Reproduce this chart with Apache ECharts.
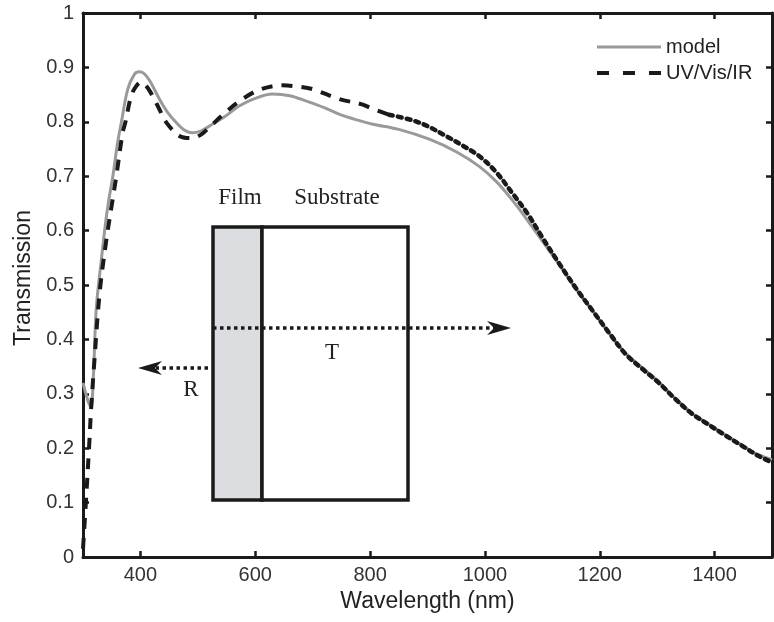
<!DOCTYPE html>
<html>
<head>
<meta charset="utf-8">
<script src="https://cdn.jsdelivr.net/npm/echarts@6/dist/echarts.min.js"></script>
<style>
  html, body { margin: 0; padding: 0; background: #fff; }
  #chart { width: 774px; height: 622px; }
</style>
</head>
<body>
<div id="chart"></div>
<script>
// Modelled transmission spectrum (nm, fraction)
const modelWl = [300, 305, 310, 314, 318, 323, 332, 340, 346, 352, 360, 367, 378, 390, 398, 406, 416, 433, 447, 462, 475, 490, 505, 520, 549, 572, 600, 630, 660, 689, 720, 746, 775, 803, 850, 903, 950, 990, 1020, 1047, 1070, 1089, 1110, 1129, 1160, 1186, 1215, 1245, 1275, 1303, 1330, 1360, 1390, 1418, 1450, 1476, 1500];
const modelT = [0.320, 0.300, 0.283, 0.276, 0.330, 0.455, 0.547, 0.620, 0.663, 0.700, 0.760, 0.800, 0.860, 0.888, 0.892, 0.889, 0.876, 0.842, 0.818, 0.799, 0.786, 0.780, 0.783, 0.792, 0.811, 0.829, 0.843, 0.851, 0.848, 0.838, 0.826, 0.814, 0.804, 0.796, 0.786, 0.768, 0.745, 0.718, 0.690, 0.657, 0.625, 0.597, 0.566, 0.538, 0.490, 0.455, 0.413, 0.375, 0.347, 0.322, 0.293, 0.265, 0.244, 0.225, 0.204, 0.188, 0.179];

// Measured UV/Vis/IR transmission
const measWl = [300, 305, 311, 314, 320, 329, 340, 352, 358, 369, 374, 384, 393, 401, 410, 421, 433, 445, 468, 488, 505, 520, 549, 578, 610, 647, 680, 700, 746, 786, 800, 833, 873, 900, 932, 960, 990, 1020, 1047, 1075, 1099, 1129, 1160, 1186, 1215, 1245, 1275, 1303, 1330, 1360, 1390, 1418, 1450, 1476, 1500];
const measT = [0.015, 0.100, 0.210, 0.270, 0.363, 0.486, 0.578, 0.660, 0.700, 0.780, 0.800, 0.848, 0.866, 0.873, 0.866, 0.848, 0.823, 0.799, 0.774, 0.770, 0.776, 0.790, 0.818, 0.842, 0.860, 0.867, 0.864, 0.860, 0.842, 0.832, 0.826, 0.813, 0.803, 0.792, 0.774, 0.757, 0.737, 0.707, 0.670, 0.630, 0.589, 0.540, 0.492, 0.455, 0.414, 0.373, 0.345, 0.320, 0.292, 0.264, 0.243, 0.224, 0.203, 0.186, 0.174];

// Beyond this wavelength the dense measured points render as short dashes
const measDenseFrom = 833;

const xTicks = [400, 600, 800, 1000, 1200, 1400];
const seriesNames = ['model', 'UV/Vis/IR'];

const zip = (xs, ys) => xs.map((x, i) => [x, ys[i]]);
const measAll = zip(measWl, measT);
const measHead = measAll.filter(p => p[0] <= measDenseFrom);
const measTail = measAll.filter(p => p[0] >= measDenseFrom);

const sans = 'Liberation Sans, Arial, Helvetica, sans-serif';
const serif = 'Liberation Serif, Times New Roman, serif';
const ink = '#1a1a1a';
const grey = '#9a9a9a';

const axisLine = { show: true, onZero: false, lineStyle: { color: ink, width: 3 } };
const tickStyle = { inside: true, length: 6, lineStyle: { color: ink, width: 2.5 } };

const chart = echarts.init(document.getElementById('chart'), null, { renderer: 'canvas' });

// Inset sketch: film on substrate with reflected / transmitted beams
function arrowHead(tipX, y, dir) {
  // notched arrowhead, dir = +1 points right, -1 points left
  const L = 24, H = 7, N = 17;
  return {
    type: 'polygon',
    shape: { points: [[tipX, y], [tipX - dir * L, y - H], [tipX - dir * N, y], [tipX - dir * L, y + H]] },
    style: { fill: ink },
    z: 10
  };
}

const graphic = [
  { type: 'rect', shape: { x: 213, y: 227, width: 49, height: 273 },
    style: { fill: '#dcdde1', stroke: ink, lineWidth: 3.5 }, z: 5 },
  { type: 'rect', shape: { x: 262, y: 227, width: 146, height: 273 },
    style: { fill: '#ffffff', stroke: ink, lineWidth: 3.5 }, z: 5 },
  { type: 'line', shape: { x1: 213, y1: 328, x2: 496, y2: 328 },
    style: { stroke: ink, lineWidth: 3.5, lineDash: [3.5, 3.5] }, z: 9 },
  arrowHead(511, 328, 1),
  { type: 'line', shape: { x1: 208, y1: 368, x2: 156, y2: 368 },
    style: { stroke: ink, lineWidth: 3.5, lineDash: [3.5, 3.5] }, z: 9 },
  arrowHead(138, 368, -1),
  { type: 'text', x: 240, y: 198, style: { text: 'Film', font: '23px ' + serif, fill: '#222', align: 'center', verticalAlign: 'middle' }, z: 10 },
  { type: 'text', x: 337, y: 198, style: { text: 'Substrate', font: '23px ' + serif, fill: '#222', align: 'center', verticalAlign: 'middle' }, z: 10 },
  { type: 'text', x: 332, y: 353, style: { text: 'T', font: '23px ' + serif, fill: '#222', align: 'center', verticalAlign: 'middle' }, z: 10 },
  { type: 'text', x: 191, y: 390, style: { text: 'R', font: '23px ' + serif, fill: '#222', align: 'center', verticalAlign: 'middle' }, z: 10 }
];

const option = {
  backgroundColor: '#ffffff',
  animation: false,
  grid: { left: 83, right: 2, top: 13, bottom: 65, containLabel: false },
  legend: {
    orient: 'vertical',
    left: 590,
    top: 32,
    itemWidth: 64,
    itemHeight: 14,
    itemGap: 6,
    data: [
      { name: seriesNames[0], lineStyle: { color: grey, width: 3 } },
      { name: seriesNames[1], lineStyle: { color: ink, width: 4, type: [12, 14] } }
    ],
    itemStyle: { opacity: 0 },
    textStyle: { fontFamily: sans, fontSize: 20, color: '#222', lineHeight: 20 }
  },
  xAxis: [
    {
      type: 'value', min: 300, max: 1500, position: 'bottom',
      name: 'Wavelength (nm)', nameLocation: 'middle', nameGap: 31,
      nameTextStyle: { fontFamily: sans, fontSize: 23, color: '#222' },
      axisLine: axisLine,
      axisTick: Object.assign({ customValues: xTicks }, tickStyle),
      axisLabel: { customValues: xTicks, formatter: v => String(v), margin: 8, fontFamily: sans, fontSize: 20, color: '#333' },
      splitLine: { show: false }
    },
    {
      type: 'value', min: 300, max: 1500, position: 'top',
      axisLine: axisLine,
      axisTick: Object.assign({ customValues: xTicks }, tickStyle),
      axisLabel: { show: false },
      splitLine: { show: false }
    }
  ],
  yAxis: [
    {
      type: 'value', min: 0, max: 1, interval: 0.1, position: 'left',
      name: 'Transmission', nameLocation: 'middle', nameGap: 48,
      nameTextStyle: { fontFamily: sans, fontSize: 23, color: '#222', padding: [0, 0, 0, 14] },
      axisLine: axisLine,
      axisTick: tickStyle,
      axisLabel: { margin: 9, fontFamily: sans, fontSize: 20, color: '#333' },
      splitLine: { show: false }
    },
    {
      type: 'value', min: 0, max: 1, interval: 0.1, position: 'right',
      axisLine: axisLine,
      axisTick: tickStyle,
      axisLabel: { show: false },
      splitLine: { show: false }
    }
  ],
  series: [
    {
      name: seriesNames[0], type: 'line', data: zip(modelWl, modelT),
      smooth: 0.35, symbol: 'none', z: 2,
      lineStyle: { color: grey, width: 3 },
      itemStyle: { color: grey }
    },
    {
      name: seriesNames[1], type: 'line', data: measHead,
      smooth: 0.35, symbol: 'none', z: 3,
      lineStyle: { color: ink, width: 4, type: [11, 9] },
      itemStyle: { color: ink }
    },
    {
      name: seriesNames[1], type: 'line', data: measTail,
      smooth: 0.35, symbol: 'none', z: 3,
      lineStyle: { color: ink, width: 4.5, type: [4, 5], cap: 'round' },
      itemStyle: { color: ink }
    }
  ],
  graphic: graphic
};

chart.setOption(option);
</script>
</body>
</html>
